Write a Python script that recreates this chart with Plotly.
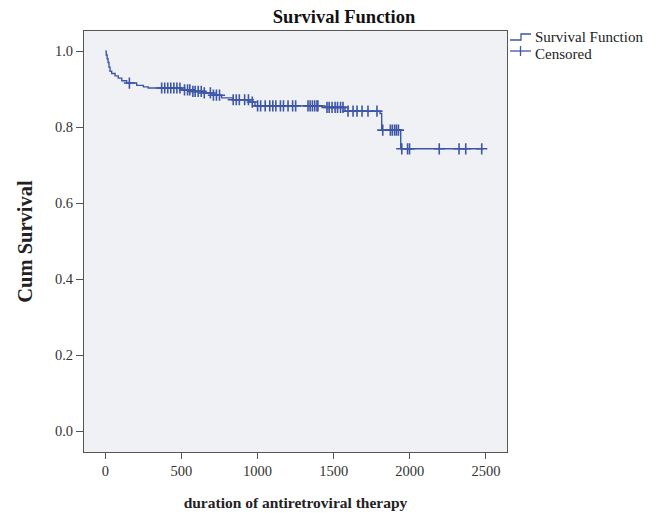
import numpy as np
import plotly.graph_objects as go

# Kaplan-Meier step function (event times and survival after each step)
event_times = [0, 6, 12, 18, 24, 31, 42, 64, 85, 108, 140, 206, 250, 282,
               502, 560, 642, 707, 764, 839, 950, 983, 1443, 1574, 1804,
               1815, 1940, 2482]
survival = [1.0, 0.99, 0.98, 0.97, 0.958, 0.947, 0.941, 0.935, 0.929, 0.922,
            0.916, 0.910, 0.906, 0.903, 0.898, 0.894, 0.890, 0.884, 0.877,
            0.872, 0.866, 0.856, 0.852, 0.842, 0.836, 0.792, 0.743, 0.743]

# Censored observation times
censor_times = [158, 370, 390, 410, 430, 450, 470, 490, 520, 540, 555, 575,
                590, 610, 630, 650, 690, 710, 730, 750, 840, 860, 880, 915,
                940, 965, 1000, 1020, 1050, 1080, 1100, 1120, 1150, 1170,
                1200, 1230, 1250, 1331, 1345, 1360, 1375, 1390, 1396, 1456,
                1470, 1489, 1509, 1525, 1545, 1561, 1594, 1627, 1653, 1686,
                1725, 1784, 1822, 1872, 1885, 1900, 1912, 1925, 1947, 1985,
                1998, 2193, 2323, 2367, 2472]

x_ticks = [0, 500, 1000, 1500, 2000, 2500]
y_ticks = [0.0, 0.2, 0.4, 0.6, 0.8, 1.0]
legend_labels = ["Survival Function", "Censored"]

et = np.array(event_times)
sv = np.array(survival)
idx = np.searchsorted(et, np.array(censor_times), side="right") - 1
censor_surv = sv[idx]

BLUE = "#3d56a6"
FONT = "Liberation Serif"

OFF = 8  # page body margin
W, H = 661 - OFF, 515 - OFF
ML, MR, MT, MB = 84 - OFF, 154, 31 - OFF, 63
PW, PH = W - ML - MR, H - MT - MB


def px(xp):
    return (xp - OFF - ML) / PW


def py(yp):
    return (H - MB - (yp - OFF)) / PH


fig = go.Figure()
fig.add_trace(go.Scatter(
    x=event_times, y=survival, mode="lines", name=legend_labels[0],
    line=dict(color=BLUE, width=1.4, shape="hv"), showlegend=False,
))
fig.add_trace(go.Scatter(
    x=censor_times, y=censor_surv, mode="markers", name=legend_labels[1],
    marker=dict(symbol="cross-thin", size=8, color=BLUE,
                line=dict(color=BLUE, width=1.6)), showlegend=False,
))

# legend drawn as key glyphs + labels
legend_shapes = [
    dict(type="path", xref="paper", yref="paper",
         path=(f"M {px(510)} {py(40)} L {px(521)} {py(40)} "
               f"L {px(521)} {py(34)} L {px(531)} {py(34)}"),
         line=dict(color=BLUE, width=1.3)),
    dict(type="line", xref="paper", yref="paper",
         x0=px(510), x1=px(531), y0=py(51), y1=py(51),
         line=dict(color=BLUE, width=1.3)),
    dict(type="line", xref="paper", yref="paper",
         x0=px(520.5), x1=px(520.5), y0=py(46), y1=py(56),
         line=dict(color=BLUE, width=1.3)),
]
legend_annots = [
    dict(text=legend_labels[0], xref="paper", yref="paper", x=px(533), y=py(37),
         xanchor="left", yanchor="middle", showarrow=False,
         font=dict(family=FONT, size=15, color="#222222")),
    dict(text=legend_labels[1], xref="paper", yref="paper", x=px(533), y=py(54),
         xanchor="left", yanchor="middle", showarrow=False,
         font=dict(family=FONT, size=15, color="#222222")),
]

fig.update_layout(
    width=W, height=H,
    margin=dict(l=ML, r=MR, t=MT, b=MB, autoexpand=False),
    paper_bgcolor="white",
    plot_bgcolor="#f0f1f4",
    font=dict(family=FONT, size=14.5, color="#333333"),
    title=dict(text="<b>Survival Function</b>", x=(344 - OFF) / W, xanchor="center",
               xref="container", y=1 - (17 - OFF) / H, yanchor="middle",
               font=dict(family=FONT, size=18.5, color="#111111")),
    showlegend=False,
    shapes=legend_shapes,
    annotations=legend_annots,
    xaxis=dict(range=[-140, 2638], tickvals=x_ticks,
               ticktext=[str(v) for v in x_ticks], automargin=False,
               showgrid=False, zeroline=False,
               showline=True, linecolor="#555555", linewidth=1, mirror=True,
               ticks="outside", ticklen=6, tickcolor="#555555",
               title=dict(text="<b>duration of antiretroviral therapy</b>",
                          font=dict(family=FONT, size=15.5, color="#222222"),
                          standoff=18)),
    yaxis=dict(range=[-0.055, 1.053], tickvals=y_ticks,
               ticktext=[f"{v:.1f}" for v in y_ticks], automargin=False,
               showgrid=False, zeroline=False,
               showline=True, linecolor="#555555", linewidth=1, mirror=True,
               ticks="outside", ticklen=7, tickcolor="#555555",
               title=dict(text="<b>Cum Survival</b>",
                          font=dict(family=FONT, size=20.5, color="#222222"),
                          standoff=16)),
)

fig.write_html("out.html")
